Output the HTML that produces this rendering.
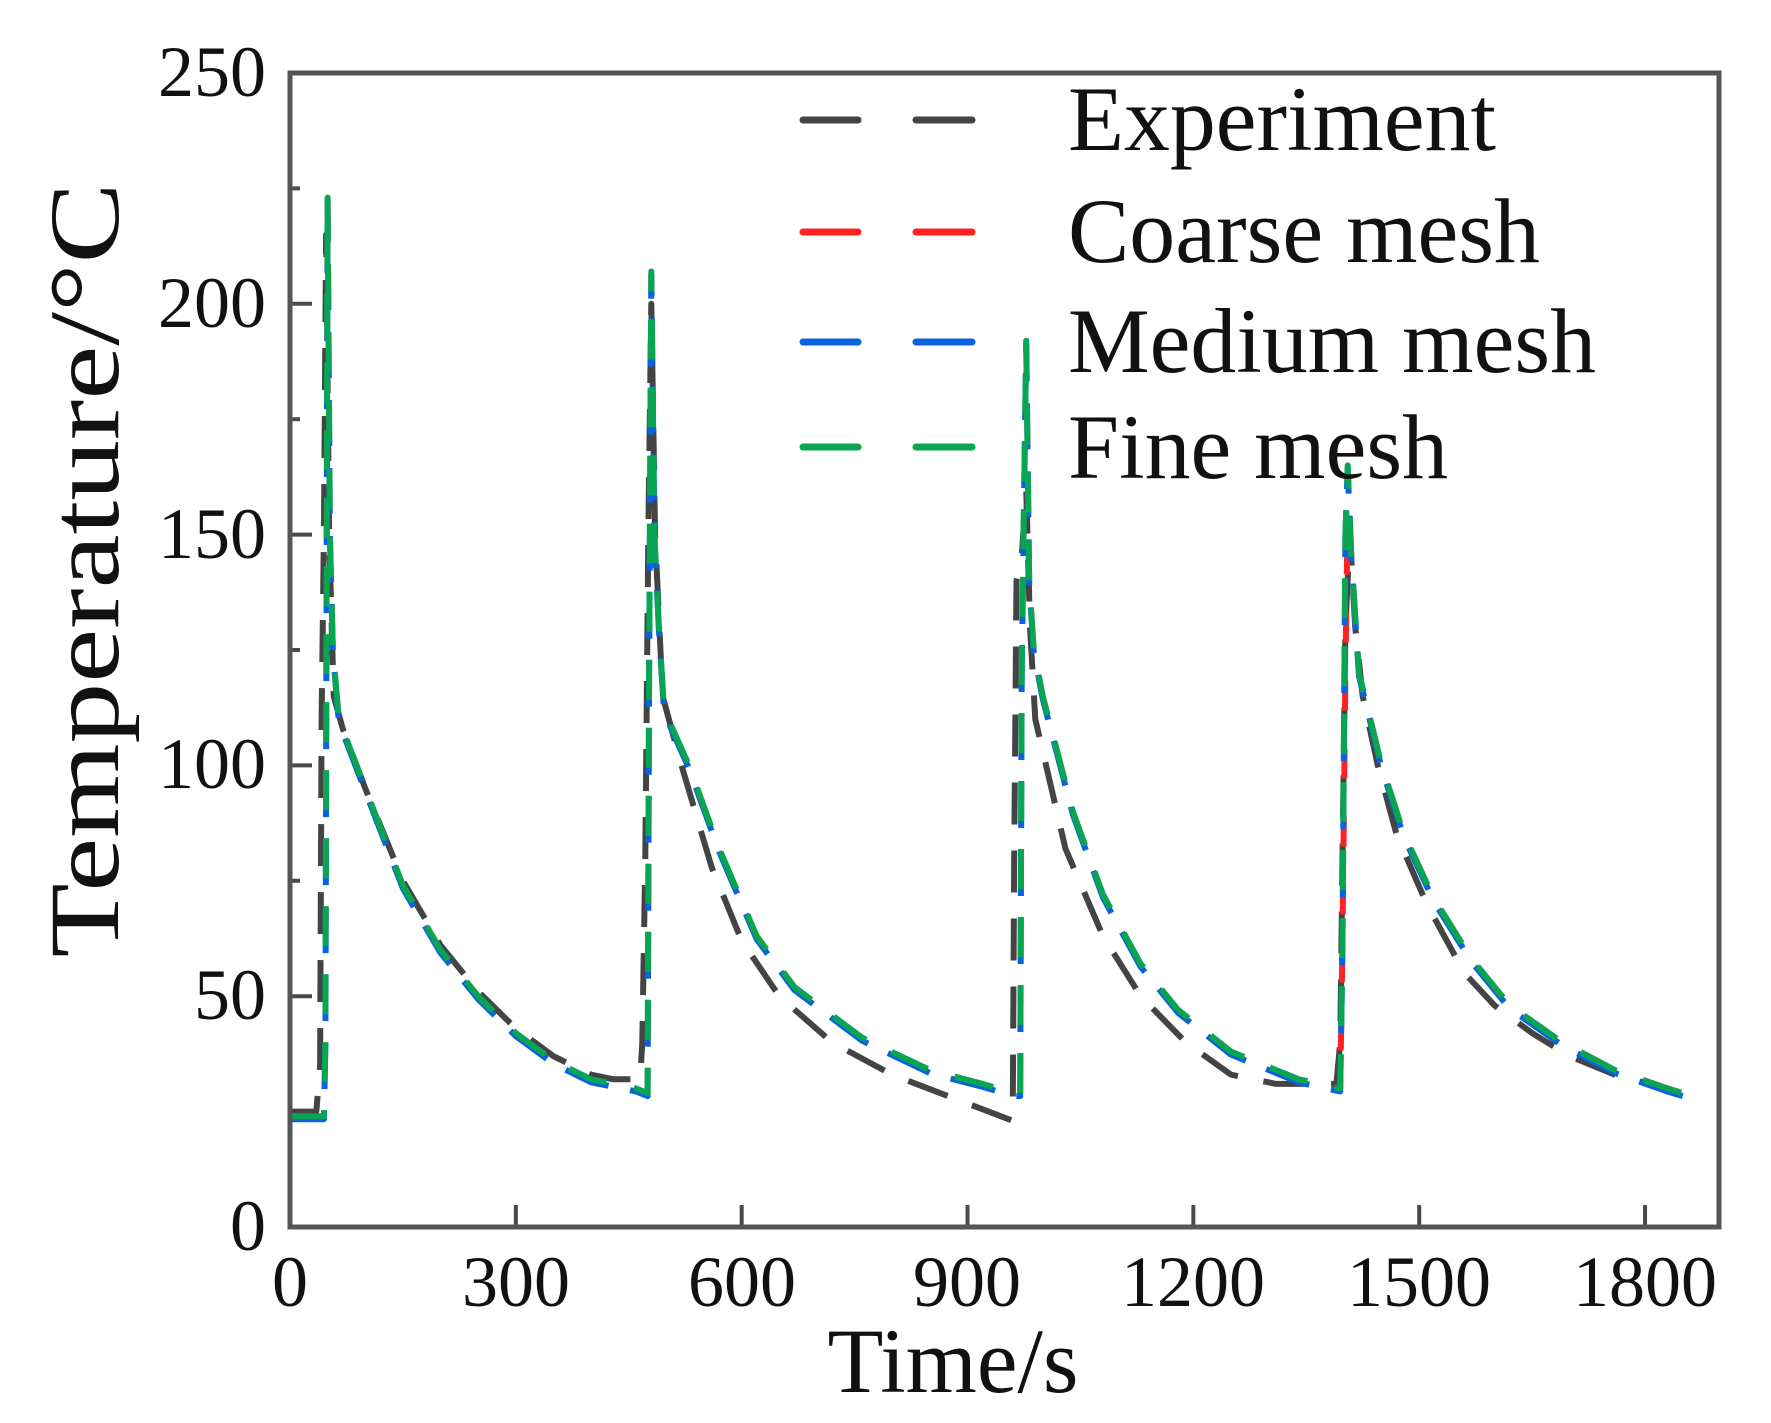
<!DOCTYPE html>
<html><head><meta charset="utf-8"><style>
html,body{margin:0;padding:0;background:#fff;}
svg{display:block;}
text{font-family:"Liberation Serif",serif;fill:#111;}
</style></head><body>
<svg id="s" width="1771" height="1423" viewBox="0 0 1771 1423" xmlns="http://www.w3.org/2000/svg">
<rect width="1771" height="1423" fill="#fff"/>
<g id="ticks" stroke="#4a4a4a" stroke-width="4"></g>
<g id="curves" fill="none" stroke-width="6" stroke-linejoin="round"></g>
<rect x="290" y="73" width="1429" height="1154" fill="none" stroke="#555" stroke-width="5"/>
<g font-size="72" text-anchor="end">
<text x="266" y="96">250</text><text x="266" y="327">200</text><text x="266" y="558">150</text>
<text x="266" y="788">100</text><text x="266" y="1019">50</text><text x="266" y="1250">0</text>
</g>
<g font-size="72" text-anchor="middle">
<text x="290" y="1306">0</text><text x="516" y="1306">300</text><text x="742" y="1306">600</text>
<text x="967" y="1306">900</text><text x="1193" y="1306">1200</text><text x="1419" y="1306">1500</text><text x="1645" y="1306">1800</text>
</g>
<text x="953" y="1392" font-size="92" text-anchor="middle" textLength="251" lengthAdjust="spacingAndGlyphs">Time/s</text>
<text transform="translate(118,570) rotate(-90)" font-size="100" text-anchor="middle" textLength="775" lengthAdjust="spacingAndGlyphs">Temperature/°C</text>
<g stroke-width="7" stroke-linecap="round">
<line x1="803" y1="120" x2="858" y2="120" stroke="#444"/><line x1="916" y1="120" x2="972" y2="120" stroke="#444"/>
<line x1="803" y1="232" x2="858" y2="232" stroke="#f22"/><line x1="916" y1="232" x2="972" y2="232" stroke="#f22"/>
<line x1="803" y1="342" x2="858" y2="342" stroke="#0a62e0"/><line x1="916" y1="342" x2="972" y2="342" stroke="#0a62e0"/>
<line x1="803" y1="447" x2="858" y2="447" stroke="#0aa552"/><line x1="916" y1="447" x2="972" y2="447" stroke="#0aa552"/>
</g>
<g font-size="92">
<text x="1068" y="150" textLength="428" lengthAdjust="spacingAndGlyphs">Experiment</text>
<text x="1068" y="262" textLength="472" lengthAdjust="spacingAndGlyphs">Coarse mesh</text>
<text x="1068" y="372" textLength="528" lengthAdjust="spacingAndGlyphs">Medium mesh</text>
<text x="1068" y="478" textLength="380" lengthAdjust="spacingAndGlyphs">Fine mesh</text>
</g>
</svg>
<script>
var X=function(t){return 290+0.7528*t}, Y=function(T){return 1227-4.616*T};
var NS="http://www.w3.org/2000/svg";
var tk=document.getElementById('ticks');
function ln(x1,y1,x2,y2){var l=document.createElementNS(NS,'line');l.setAttribute('x1',x1);l.setAttribute('y1',y1);l.setAttribute('x2',x2);l.setAttribute('y2',y2);tk.appendChild(l);}
for(var v=0;v<=250;v+=25){var y=Y(v);ln(290,y,290+(v%50==0?22:10),y);}
for(var t=300;t<=1800;t+=300){var x=X(t);ln(x,1227,x,1205);}
var exp=[[0,25],[35,25],[40,35],[42,110],[45,150],[48,215],[52,150],[58,115],[70,108],[100,95],[150,75],[200,61],[250,51],[300,43],[350,37],[400,33],[430,32],[465,32],[468,40],[472,80],[476,150],[480,200],[485,150],[495,115],[520,100],[560,78],[600,62],[650,50],[720,40],[800,33],[880,28],[960,23],[962,80],[965,140],[972,145],[978,160],[983,130],[990,110],[1030,82],[1080,63],[1130,50],[1190,40],[1250,33],[1310,31],[1390,31],[1395,40],[1402,130],[1408,150],[1415,130],[1425,115],[1445,100],[1470,85],[1510,70],[1560,55],[1600,48],[1650,42],[1700,37],[1760,33],[1830,30],[1850,29]];
var sim=[[0,24],[45,24],[47,40],[50,223],[53,150],[57,125],[65,110],[100,95],[150,74],[200,60],[250,50],[300,42],[350,36],[400,32],[430,31],[460,30],[475,29],[477,120],[480,207],[484,150],[490,130],[497,112],[530,100],[570,82],[620,63],[670,52],[760,41],[850,34],[920,31],[962,29],[970,29],[972,120],[978,192],[982,140],[988,125],[1000,115],[1040,90],[1080,72],[1130,57],[1180,47],[1250,38],[1340,32],[1395,30],[1398,60],[1402,150],[1405,165],[1410,145],[1420,120],[1450,100],[1480,85],[1520,71],[1570,58],[1620,48],[1690,40],[1760,34],[1830,30],[1850,29]];
var coarse=sim.filter(function(p){return p[0]>=1395;}).map(function(p){var q=[p[0],p[1]];if(p[0]==1405)q[1]=155;if(p[0]==1402)q[1]=120;return q;});
function d(a,dx,dy){return 'M'+a.map(function(p){return (X(p[0])+dx).toFixed(1)+','+(Y(p[1])+dy).toFixed(1)}).join('L');}
var cv=document.getElementById('curves');
function add(a,col,dash,off,dx,dy){var p=document.createElementNS(NS,'path');p.setAttribute('d',d(a,dx,dy));p.setAttribute('stroke',col);p.setAttribute('stroke-dasharray',dash);p.setAttribute('stroke-dashoffset',off);cv.appendChild(p);}
add(exp,'#444','42 26',0,0,0);
add(coarse,'#f22','30 38',-38,0,0);
add(sim,'#0a62e0','46 22',4,0,3);
add(sim,'#0aa552','40 28',0,0,0);
</script>
</body></html>
